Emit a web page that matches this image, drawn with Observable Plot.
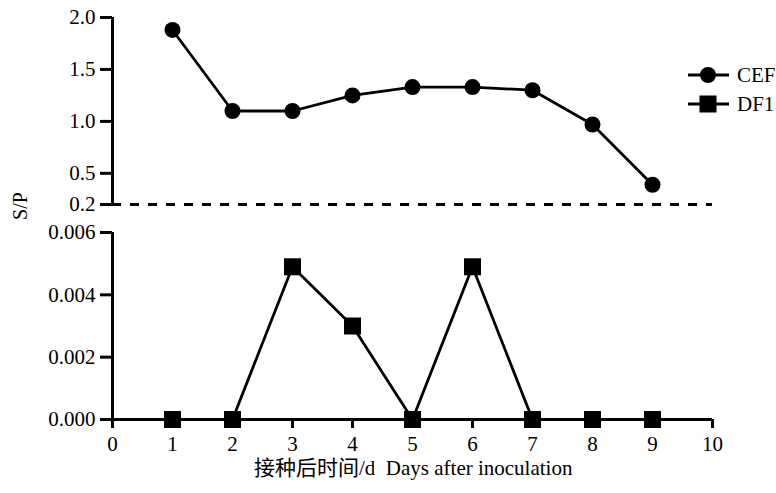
<!DOCTYPE html>
<html>
<head>
<meta charset="utf-8">
<script src="https://cdn.jsdelivr.net/npm/d3@7"></script>
<script src="https://cdn.jsdelivr.net/npm/@observablehq/plot@0.6"></script>
<style>
  html, body { margin: 0; padding: 0; background: #fff; }
  #chart { position: relative; width: 776px; height: 493px; font-family: "Liberation Serif", "Times New Roman", "DejaVu Serif", "Noto Sans CJK SC", serif; color: #000; }
  #chart > * { position: absolute; }
  #chart svg text { font-family: "Liberation Serif", "Times New Roman", "DejaVu Serif", serif !important; }
  .lbl { font-size: 20px; white-space: nowrap; }
</style>
</head>
<body>
<div id="chart"></div>
<script>
const days = [1, 2, 3, 4, 5, 6, 7, 8, 9];
const cef = [1.88, 1.10, 1.10, 1.25, 1.33, 1.33, 1.30, 0.97, 0.39];
const df1 = [0, 0, 0.0049, 0.0030, 0, 0.0049, 0, 0, 0];
const xTicks = [0, 1, 2, 3, 4, 5, 6, 7, 8, 9, 10];
const topTicks = [0.2, 0.5, 1.0, 1.5, 2.0];
const bottomTicks = [0, 0.002, 0.004, 0.006];
const seriesNames = ["CEF", "DF1"];

const cefData = days.map((d, i) => ({day: d, v: cef[i]}));
const df1Data = days.map((d, i) => ({day: d, v: df1[i]}));

const serif = "Liberation Serif, Times New Roman, DejaVu Serif, serif";
const font = {fontFamily: serif, fontSize: "21px", color: "#000", background: "transparent", overflow: "visible"};
const chart = document.getElementById("chart");

// Top panel (CEF)
const topPlot = Plot.plot({
  width: 776, height: 210,
  marginLeft: 112, marginRight: 64, marginTop: 17, marginBottom: 6,
  style: font,
  x: {domain: [0, 10], axis: null},
  y: {domain: [0.2, 2.0], label: null},
  marks: [
    Plot.axisY({ticks: topTicks, tickFormat: ".1f", tickSize: 12, tickPadding: 5, strokeWidth: 3, label: null, fontSize: 21, fontFamily: serif}),
    Plot.ruleX([0], {y1: 0.2, y2: 2.0, strokeWidth: 3}),
    Plot.ruleY([0.2], {x1: 0, x2: 10, strokeWidth: 3, strokeDasharray: "9,9"}),
    Plot.line(cefData, {x: "day", y: "v", strokeWidth: 2.8}),
    Plot.dot(cefData, {x: "day", y: "v", r: 8, fill: "black", symbol: "circle"})
  ]
});
topPlot.style.left = "0px"; topPlot.style.top = "0px";
chart.appendChild(topPlot);

// Bottom panel (DF1)
const bottomPlot = Plot.plot({
  width: 776, height: 283,
  marginLeft: 112, marginRight: 64, marginTop: 22, marginBottom: 74,
  style: font,
  x: {domain: [0, 10], label: null},
  y: {domain: [0, 0.006], label: null},
  marks: [
    Plot.axisY({ticks: bottomTicks, tickFormat: ".3f", tickSize: 12, tickPadding: 5, strokeWidth: 3, label: null, fontSize: 21, fontFamily: serif}),
    Plot.axisX({ticks: xTicks, tickFormat: "d", tickSize: 9, tickPadding: 8, strokeWidth: 3, label: null, fontSize: 21, fontFamily: serif}),
    Plot.ruleX([0], {y1: 0, y2: 0.006, strokeWidth: 3}),
    Plot.ruleY([0], {x1: 0, x2: 10, strokeWidth: 3}),
    Plot.line(df1Data, {x: "day", y: "v", strokeWidth: 2.8}),
    Plot.dot(df1Data, {x: "day", y: "v", r: 9.6, fill: "black", symbol: "square"})
  ]
});
bottomPlot.style.left = "0px"; bottomPlot.style.top = "210px";
chart.appendChild(bottomPlot);

// Y label
const yl = document.createElement("div");
yl.className = "lbl";
yl.textContent = "S/P";
yl.style.left = "20px"; yl.style.top = "206px";
yl.style.transform = "translate(-50%, -50%) rotate(-90deg)";
chart.appendChild(yl);

// X label
const xl = document.createElement("div");
xl.className = "lbl";
xl.style.fontSize = "21px";
xl.innerHTML = "接种后时间/d&nbsp;&nbsp;Days after inoculation";
xl.style.left = "254px"; xl.style.top = "451px";
chart.appendChild(xl);

// Legend
const leg = d3.create("svg").attr("width", 120).attr("height", 60)
  .style("left", "656px").style("top", "58px").style("overflow", "visible");
const symbols = [d3.symbolCircle, d3.symbolSquare];
const sizes = [Math.PI * 64, 17 * 17];
seriesNames.forEach((name, i) => {
  const y = 17 + i * 29;
  leg.append("line").attr("x1", 32).attr("x2", 73).attr("y1", y).attr("y2", y)
    .attr("stroke", "black").attr("stroke-width", 3);
  leg.append("path").attr("d", d3.symbol(symbols[i], sizes[i])())
    .attr("transform", `translate(52,${y})`).attr("fill", "black");
  leg.append("text").attr("x", 81).attr("y", y).attr("dy", "0.35em")
    .attr("font-size", 21).text(name);
});
chart.appendChild(leg.node());
</script>
</body>
</html>
